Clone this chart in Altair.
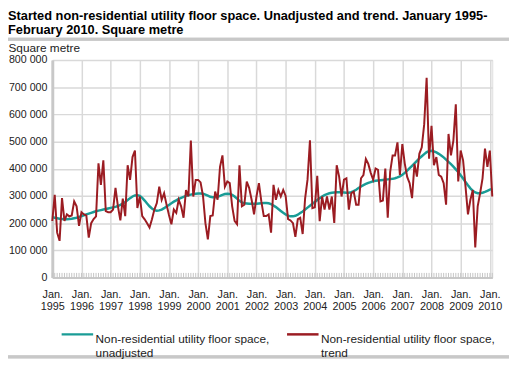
import altair as alt
import pandas as pd

title_lines = ["Started non-residential utility floor space. Unadjusted and trend. January 1995-",
               "February 2010. Square metre"]
y_title = "Square metre"
series_names = ["Non-residential utility floor space, unadjusted",
                "Non-residential utility floor space, trend"]
series_colors = ["#1a9c96", "#9b1c22"]
first_year = 1995
year_ticks = [0, 12, 24, 36, 48, 60, 72, 84, 96, 108, 120, 132, 144, 156, 168, 180]
y_ticks = [0, 100000, 200000, 300000, 400000, 500000, 600000, 700000, 800000]

# monthly values, thousand square metres, Jan 1995 - Feb 2010
red_k = [
    208, 304, 165, 135, 292, 208, 232, 225, 228, 280, 262, 190,   # 1995
    240, 232, 228, 147, 200, 215, 225, 420, 341, 431, 244, 240,   # 1996
    240, 250, 330, 262, 210, 290, 226, 413, 359, 443, 467, 256,   # 1997
    298, 226, 214, 200, 184, 214, 250, 274, 334, 286, 310, 268,   # 1998
    230, 196, 250, 238, 286, 262, 220, 322, 298, 504, 298, 359,   # 1999
    359, 350, 300, 200, 140, 226, 228, 316, 286, 407, 449, 334,   # 2000
    353, 347, 262, 208, 196, 413, 262, 268, 353, 329, 286, 232,   # 2001
    298, 347, 280, 226, 226, 232, 165, 341, 286, 322, 298, 322,   # 2002
    300, 215, 210, 200, 150, 215, 220, 160, 290, 360, 505, 255,   # 2003
    258, 374, 207, 298, 250, 298, 250, 298, 201, 413, 371, 298,   # 2004
    360, 365, 250, 310, 316, 268, 268, 365, 377, 436, 418, 385,   # 2005
    360, 401, 396, 280, 283, 401, 220, 389, 449, 449, 497, 377,   # 2006
    491, 419, 370, 347, 292, 418, 371, 455, 479, 564, 735, 437,   # 2007
    558, 413, 443, 377, 371, 347, 268, 528, 449, 503, 637, 353,   # 2008
    467, 431, 334, 232, 286, 322, 111, 262, 310, 365, 474, 407,   # 2009
    467, 298,                                                     # 2010
]
teal_k = [
    222, 220, 218, 216, 215, 214, 214, 215, 216, 218, 220, 223,   # 1995
    226, 229, 232, 235, 238, 241, 244, 246, 248, 250, 252, 254,   # 1996
    256, 258, 260, 263, 267, 272, 278, 285, 292, 298, 302, 303,   # 1997
    300, 293, 283, 272, 262, 254, 248, 246, 247, 250, 255, 261,   # 1998
    267, 273, 279, 284, 289, 293, 297, 300, 303, 305, 307, 308,   # 1999
    309, 309, 308, 305, 301, 297, 295, 295, 297, 300, 304, 307,   # 2000
    308, 307, 304, 298, 290, 282, 276, 273, 272, 271, 271, 271,   # 2001
    271, 272, 273, 274, 274, 273, 270, 265, 259, 252, 245, 238,   # 2002
    232, 227, 225, 225, 227, 231, 237, 243, 250, 257, 264, 271,   # 2003
    278, 285, 292, 298, 303, 307, 310, 312, 313, 314, 314, 314,   # 2004
    313, 312, 312, 314, 318, 323, 329, 335, 340, 344, 348, 351,   # 2005
    354, 356, 357, 358, 359, 360, 361, 362, 363, 365, 368, 372,   # 2006
    378, 385, 393, 402, 411, 420, 429, 438, 446, 454, 461, 465,   # 2007
    466, 464, 460, 455, 449, 442, 434, 425, 417, 408, 398, 388,   # 2008
    376, 364, 351, 339, 328, 319, 313, 310, 310, 312, 315, 319,   # 2009
    323, 326,                                                     # 2010
]

n = len(red_k)
months = list(range(n))
df = pd.DataFrame({
    "month": months + months,
    "value": [v * 1000 for v in teal_k] + [v * 1000 for v in red_k],
    "series": [series_names[0]] * n + [series_names[1]] * n,
})
ticks_df = pd.DataFrame({"month": months, "value": [0] * n, "hi": [17000] * n})
# decorative separator lines (under the title, and at the very bottom)
deco_df = pd.DataFrame({
    "month": [-18.2, -18.2],
    "x1": [188.0, 188.0],
    "value": [876000, -292000],
})
one_row = pd.DataFrame({"k": [1]})

FONT = "Liberation Sans"
GRID = "#d9d9d9"
TXT = "#222222"
SEP = "#c8c8c8"

x_scale = alt.Scale(domain=[0, n - 1], nice=False, zero=False)
y_scale = alt.Scale(domain=[0, 800000], nice=False)

x_axis = alt.Axis(
    values=year_ticks, grid=True, gridColor=GRID, gridWidth=1.5, ticks=False,
    domain=True, domainColor="#c8c8c8", domainWidth=2,
    labelExpr=f"['Jan.', '' + ({first_year} + datum.value / 12)]",
    labelFont=FONT, labelFontSize=11, labelColor=TXT, labelPadding=11,
    labelBaseline="top", labelLineHeight=12, labelFlush=False, labelOverlap=False,
    labelBound=False, title=None,
)
y_axis = alt.Axis(
    values=y_ticks, grid=True, gridColor=GRID, gridWidth=1.5, ticks=False,
    domain=True, domainColor="#c8c8c8", domainWidth=3,
    labelExpr="datum.value == 0 ? '0' : format(datum.value / 1000, 'd') + ' 000'",
    labelFont=FONT, labelFontSize=10.8, labelColor=TXT, labelPadding=5.5,
    labelOverlap=False, labelFlush=False, labelBound=False,
    title=y_title, titleAngle=0, titleAlign="left", titleBaseline="middle",
    titleX=-45, titleY=-13, titleFont=FONT, titleFontSize=12,
    titleFontWeight="normal", titleColor=TXT,
)

x_enc = alt.X("month:Q", scale=x_scale, axis=x_axis)
y_enc = alt.Y("value:Q", scale=y_scale, axis=y_axis)

color = alt.Color(
    "series:N",
    scale=alt.Scale(domain=series_names, range=series_colors),
    legend=alt.Legend(
        orient="none", legendX=8, legendY=261, direction="horizontal", title=None,
        symbolType="stroke", symbolSize=1024, symbolStrokeWidth=2.5,
        labelExpr="[slice(datum.label, 0, indexof(datum.label, ',') + 1), slice(datum.label, indexof(datum.label, ',') + 2)]",
        labelFont=FONT, labelFontSize=12, labelColor=TXT, labelBaseline="top",
        labelOffset=1, columnPadding=12, labelLimit=400,
    ),
)

base = alt.Chart(df).encode(x=x_enc, y=y_enc, color=color)

teal_line = base.transform_filter(alt.datum.series == series_names[0]).mark_line(strokeWidth=2.5)
red_line = base.transform_filter(alt.datum.series == series_names[1]).mark_line(strokeWidth=2)

ruler = alt.Chart(ticks_df).mark_rule(color="#c4c4c4", strokeWidth=1).encode(
    x=x_enc, y=y_enc, y2="hi:Q",
)

deco = alt.Chart(deco_df).mark_rule(color=SEP, strokeWidth=3, clip=False).encode(
    x=x_enc, x2="x1:Q", y=y_enc,
)
deco_top = alt.Chart(one_row).mark_rect(color=SEP, clip=False).encode(
    x=alt.value(-45), x2=alt.value(464), y=alt.value(-22.5), y2=alt.value(-19.5),
)
deco_bottom = alt.Chart(one_row).mark_rect(color=SEP, clip=False).encode(
    x=alt.value(-45), x2=alt.value(464), y=alt.value(300), y2=alt.value(303),
)

chart = alt.layer(ruler, teal_line, red_line, deco, deco_top, deco_bottom).properties(
    width=447, height=221,
    autosize=alt.AutoSizeParams(type="none"),
    padding={"left": 45, "top": 50, "right": 17, "bottom": 84},
    title=alt.TitleParams(
        text=title_lines, anchor="start", frame="group", font=FONT, fontSize=13,
        fontWeight="bold", color="#000000", dx=-45, dy=9, lineHeight=14, offset=10,
    ),
).configure_view(stroke=None).configure(background="white").configure_axis(
    labelOverlap=False)

chart.save("out.html", embed_options={"renderer": "svg", "actions": False})
